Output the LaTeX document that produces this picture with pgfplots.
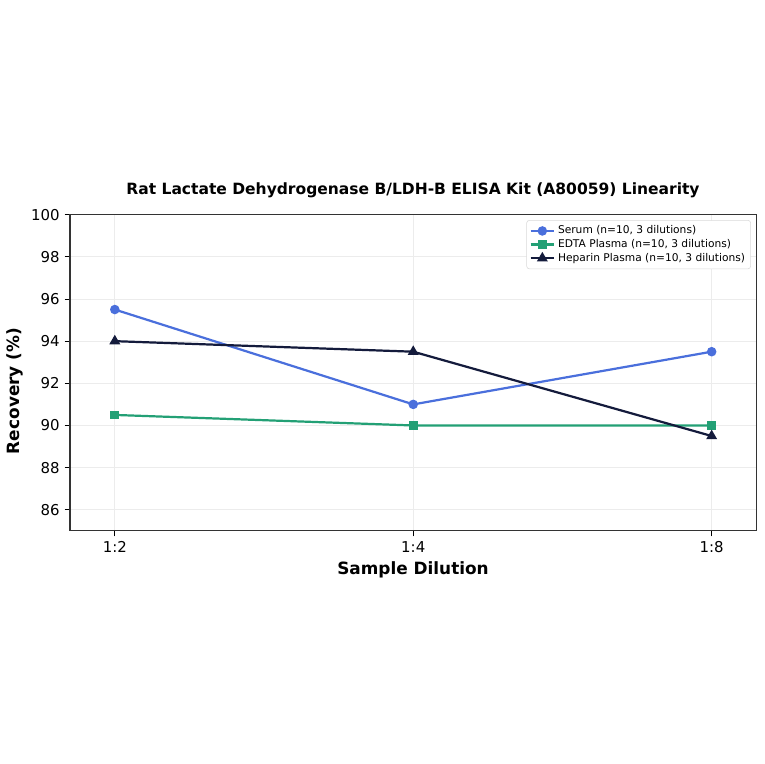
\documentclass[border=0pt]{standalone}
\usepackage{pgfplots}
\pgfplotsset{compat=1.18}
\usepackage{fontspec}
\setmainfont{DejaVu Sans}
\definecolor{serum}{HTML}{4A6FDC}
\definecolor{edta}{HTML}{23A075}
\definecolor{hep}{HTML}{141B3C}
\begin{document}
\begin{tikzpicture}[x=0.01in,y=0.01in]
\path[use as bounding box] (0,0) rectangle (764,764);
\begin{axis}[
  at={(0.70in,2.33in)}, anchor=south west,
  scale only axis, width=6.86in, height=3.16in,
  xmin=-0.15, xmax=2.15, ymin=85, ymax=100,
  xtick={0,1,2}, xticklabels={1:2,1:4,1:8},
  ytick={86,88,...,100},
  /pgf/number format/assume math mode=true,
  tick label style={font=\fontsize{10.8}{12}\selectfont},
  grid=major, major grid style={gray!15, line width=0.6pt},
  axis line style={black!80, line width=0.9pt},
  tick style={black, line width=0.7pt}, tick align=outside,
  major tick length=4pt,
  xtick pos=bottom, ytick pos=left,
  legend style={at={(0.992,0.983)}, anchor=north east, font=\fontsize{7.7}{9}\selectfont,
    draw=black!15, rounded corners=2pt, row sep=-1.5pt, inner sep=2pt},
  legend cell align=left,
]
\addplot[serum, line width=1.6pt, mark=*, mark size=2.6pt] coordinates {(0,95.5) (1,91) (2,93.5)};
\addlegendentry{Serum (n=10, 3 dilutions)}
\addplot[edta, line width=1.6pt, mark=square*, mark size=2.4pt] coordinates {(0,90.5) (1,90) (2,90)};
\addlegendentry{EDTA Plasma (n=10, 3 dilutions)}
\addplot[hep, line width=1.6pt, mark=triangle*, mark size=3pt] coordinates {(0,94) (1,93.5) (2,89.5)};
\addlegendentry{Heparin Plasma (n=10, 3 dilutions)}
\end{axis}
\node[font=\bfseries\fontsize{11.2}{13}\selectfont] at (413,574) {Rat Lactate Dehydrogenase B/LDH-B ELISA Kit (A80059) Linearity};
\node[font=\bfseries\fontsize{12.2}{14}\selectfont] at (413,194) {Sample Dilution};
\node[font=\bfseries\fontsize{12.2}{14}\selectfont, rotate=90] at (15,373) {Recovery (\%)};
\end{tikzpicture}
\end{document}
